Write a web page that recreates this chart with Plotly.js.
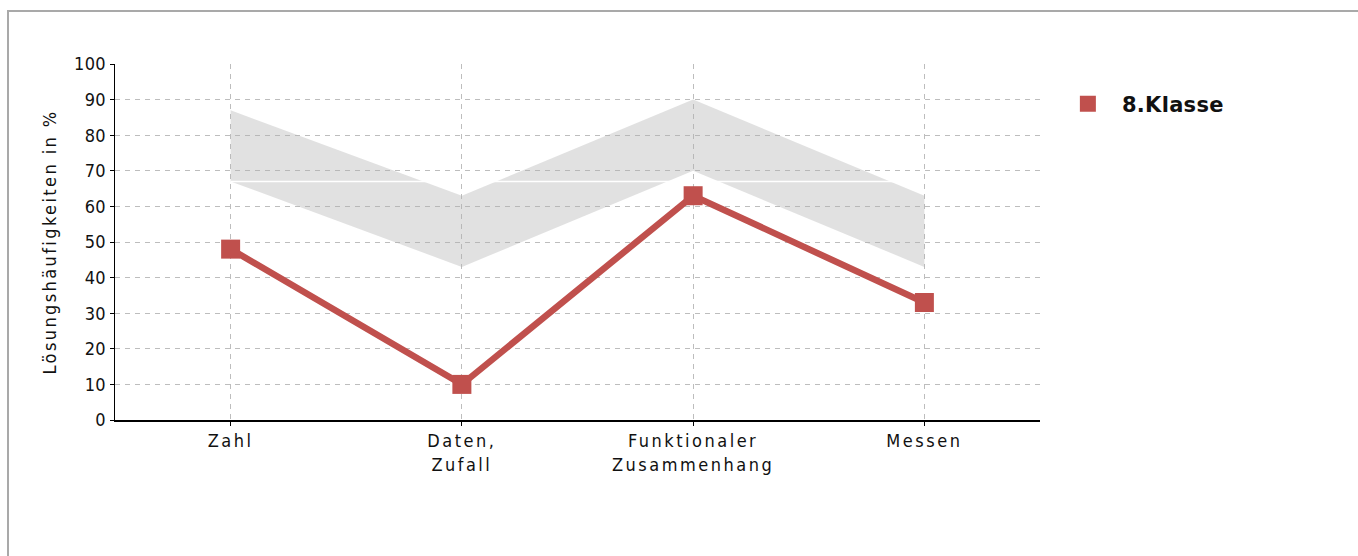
<!DOCTYPE html>
<html>
<head>
<meta charset="utf-8">
<script src="https://cdn.plot.ly/plotly-3.0.1.min.js"></script>
<style>
  html, body { margin: 0; padding: 0; background: #fff; }
  #wrap { position: relative; width: 1358px; height: 556px; overflow: hidden; }
  #chart { position: absolute; left: 0; top: 0; width: 1358px; height: 556px; }
  #frame { position: absolute; left: 7px; top: 10px; width: 1400px; height: 600px;
           border-left: 2px solid #a9a9a9; border-top: 2px solid #a9a9a9; pointer-events: none; }
  svg text { letter-spacing: 2.5px; }
  svg text.legendtext { letter-spacing: 0.3px; }
  svg text.ytitle { letter-spacing: 2.4px; }
</style>
</head>
<body>
<div id="wrap">
  <div id="chart"></div>
  <div id="frame"></div>
</div>
<script>
// Data
const categories = ["Zahl", "Daten,<br>Zufall", "Funktionaler<br>Zusammenhang", "Messen"];
const klasse8 = [48, 10, 63, 33];
const bandLower = [67, 43, 70, 43];
const bandUpper = [87, 63, 90, 63];
const referenceLine = [67, 67, 67, 67];
const yTicks = [0, 10, 20, 30, 40, 50, 60, 70, 80, 90, 100];
const seriesName = "8.Klasse";

const red = "#c0504d";
const font = "DejaVu Sans Condensed, DejaVu Sans, sans-serif";

const traces = [
  { x: categories, y: bandLower, type: "scatter", mode: "lines",
    line: { width: 0 }, showlegend: false, hoverinfo: "skip" },
  { x: categories, y: bandUpper, type: "scatter", mode: "lines",
    line: { width: 0 }, fill: "tonexty", fillcolor: "rgba(175,175,175,0.38)",
    showlegend: false, hoverinfo: "skip" },
  { x: categories, y: referenceLine, type: "scatter", mode: "lines",
    line: { width: 1.5, color: "#ffffff" }, showlegend: false, hoverinfo: "skip" },
  { x: categories, y: klasse8, type: "scatter", mode: "lines",
    line: { width: 6.5, color: red }, showlegend: false },
  { x: categories, y: klasse8, type: "scatter", mode: "markers", name: seriesName,
    marker: { symbol: "square", size: 19, color: red }, showlegend: true }
];

const layout = {
  width: 1358, height: 556,
  margin: { l: 115, r: 318, t: 64, b: 136 },
  paper_bgcolor: "#ffffff", plot_bgcolor: "#ffffff",
  font: { family: font, size: 18, color: "#111" },
  xaxis: {
    type: "category", range: [-0.5, 3.5],
    showgrid: true, gridcolor: "#bdbdbd", griddash: "5px,5px", gridwidth: 1,
    showline: true, linecolor: "#000", linewidth: 1.5,
    ticks: "outside", ticklen: 4, tickcolor: "#000",
    tickfont: { family: font, size: 18, color: "#111" },
    zeroline: false, fixedrange: true
  },
  yaxis: {
    range: [0, 100], tickvals: yTicks, ticktext: yTicks.map(String),
    showgrid: true, gridcolor: "#bdbdbd", griddash: "5px,5px", gridwidth: 1,
    showline: true, linecolor: "#000", linewidth: 1.5,
    ticks: "outside", ticklen: 4, tickcolor: "#000",
    tickfont: { family: font, size: 18, color: "#111" },
    zeroline: false, fixedrange: true,
    title: { text: "Lösungshäufigkeiten in %", font: { family: font, size: 18, color: "#111" }, standoff: 6 }
  },
  showlegend: true,
  legend: {
    x: 1.015, y: 0.945, xanchor: "left", yanchor: "top", itemwidth: 58,
    font: { family: "DejaVu Sans, sans-serif", size: 21, color: "#111", weight: "bold" },
    bgcolor: "rgba(0,0,0,0)"
  }
};

Plotly.newPlot("chart", traces, layout, { displayModeBar: false, staticPlot: true });

// y tick digits are narrow in the reference: less spacing there
document.querySelectorAll('.ytick text').forEach(t => t.style.letterSpacing = '0.3px');
</script>
</body>
</html>
